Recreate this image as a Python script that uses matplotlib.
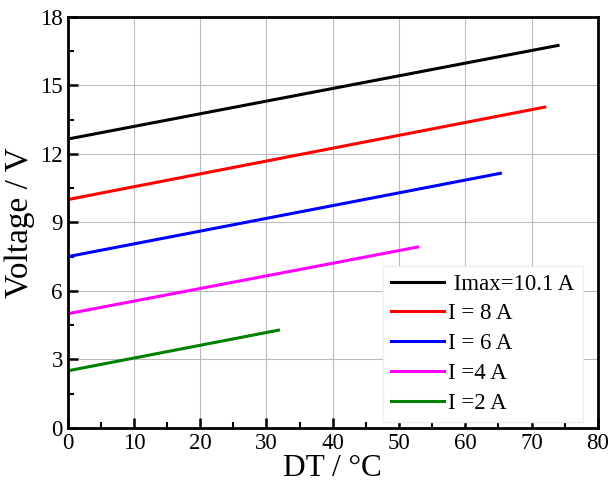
import matplotlib
matplotlib.use('Agg')
import matplotlib.pyplot as plt
from matplotlib.ticker import MultipleLocator

plt.rcParams['font.family'] = ['Liberation Serif', 'DejaVu Serif']

labels = [' Imax=10.1 A', 'I = 8 A', 'I = 6 A', 'I =4 A', 'I =2 A']
colors = ['black', 'red', 'blue', '#ff00ff', 'green']
dt_start = [0, 0, 0, 0, 0]
dt_end = [74, 72, 65.3, 52.8, 31.8]
v_start = [12.65, 10.0, 7.5, 5.0, 2.5]
v_end = [16.75, 14.05, 11.15, 7.92, 4.28]

fig = plt.figure(figsize=(6.1, 4.97), dpi=100)
ax = fig.add_axes([0.111, 0.139, 0.869, 0.827])

for lab, c, x0, x1, y0, y1 in zip(labels, colors, dt_start, dt_end, v_start, v_end):
    ax.plot([x0, x1], [y0, y1], color=c, lw=2.2, label=lab)

ax.set_xlim(0, 80)
ax.set_ylim(0, 18)
ax.xaxis.set_major_locator(MultipleLocator(10))
ax.xaxis.set_minor_locator(MultipleLocator(5))
ax.yaxis.set_major_locator(MultipleLocator(3))
ax.yaxis.set_minor_locator(MultipleLocator(1.5))
ax.grid(True, which='major', color='#bbbbbb', lw=0.8)
ax.tick_params(which='both', direction='in', top=False, right=False, labelsize=16.5)
ax.tick_params(which='major', length=7, width=1.8)
ax.tick_params(which='minor', length=4, width=1.5)
for s in ax.spines.values():
    s.set_linewidth(2)

ax.set_xlabel('DT / °C', fontsize=22.5, labelpad=0)
ax.set_ylabel('Voltage / V', fontsize=24, labelpad=4)

ax.legend(loc='lower left', bbox_to_anchor=(0.595, 0.015), fontsize=16.5, frameon=True,
          fancybox=False, edgecolor='#eeeeee', framealpha=1, handlelength=2.3,
          handletextpad=0.2, labelspacing=0.38, borderaxespad=0, borderpad=0.35)

plt.savefig('out.png', dpi=100)
